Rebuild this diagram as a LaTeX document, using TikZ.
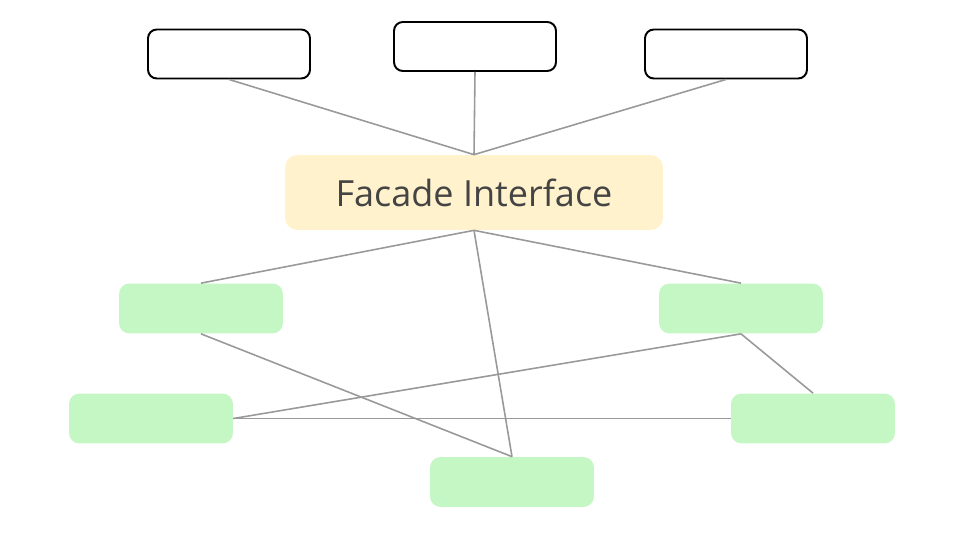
\documentclass[tikz,border=0pt]{standalone}
\usepackage{fontspec}
\setmainfont{Open Sans}
\usetikzlibrary{positioning}
\definecolor{cliente}{HTML}{FFFFFF}
\definecolor{fachada}{HTML}{FFF2CC}
\definecolor{subsis}{HTML}{C5F7C5}
\definecolor{enlace}{HTML}{999999}
\definecolor{texto}{HTML}{444444}
\tikzset{
  caja/.style={draw=black, line width=1.1pt, fill=cliente, rounded corners=5pt,
    minimum width=3.24cm, minimum height=0.98cm, inner sep=0pt},
  modulo/.style={fill=subsis, rounded corners=6pt,
    minimum width=3.28cm, minimum height=1.0cm, inner sep=0pt},
  fac/.style={fill=fachada, rounded corners=7pt, text=texto,
    minimum width=7.56cm, minimum height=1.5cm, inner sep=0pt,
    font=\fontsize{20.5}{24}\selectfont},
  linea/.style={draw=enlace, line width=0.9pt},
}
\begin{document}
\begin{tikzpicture}[x=0.02cm, y=-0.02cm]
  \useasboundingbox (0,0) rectangle (960,540);
  % clientes
  \node[caja] (c1) at (229,54) {};
  \node[caja] (c2) at (475,46.5) {};
  \node[caja] (c3) at (726,54) {};
  % fachada
  \node[fac] (f) at (474,192.5) {Facade Interface};
  % subsistemas
  \node[modulo] (s1) at (201,308.5) {};
  \node[modulo] (s2) at (741,308.5) {};
  \node[modulo] (s3) at (151,418.5) {};
  \node[modulo] (s4) at (813,418.5) {};
  \node[modulo] (s5) at (512,482) {};
  % enlaces
  \draw[linea] (c1.south) -- (f.north);
  \draw[linea] (c2.south) -- (f.north);
  \draw[linea] (c3.south) -- (f.north);
  \draw[linea] (f.south) -- (s1.north);
  \draw[linea] (f.south) -- (s2.north);
  \draw[linea] (f.south) -- (s5.north);
  \draw[linea] (s1.south) -- (s5.north);
  \draw[linea] (s2.south) -- (s3.east);
  \draw[linea] (s2.south) -- (s4.north);
  \draw[linea] (s3.east) -- (s4.west);
\end{tikzpicture}
\end{document}
